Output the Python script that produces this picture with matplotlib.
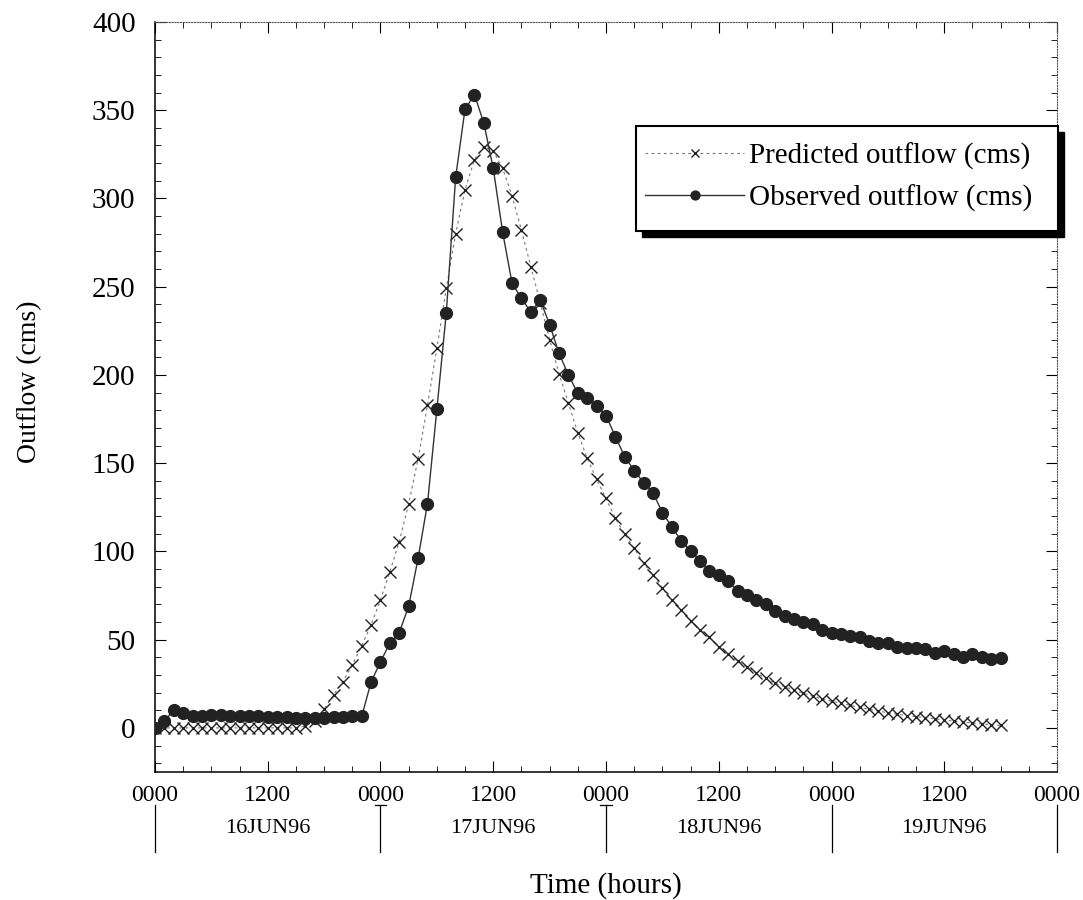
import matplotlib

matplotlib.use("Agg")

import matplotlib.pyplot as plt
import matplotlib.transforms as mtransforms
from matplotlib.patches import Rectangle
from matplotlib.ticker import MultipleLocator


plt.rcParams["font.family"] = ["Liberation Serif", "DejaVu Serif"]

# hourly values starting 16JUN96 0000
HOURS = list(range(91))

OBSERVED = [
    0, 4, 10, 8.5, 7, 7, 7.5, 7.5, 7, 7,
    6.5, 6.5, 6, 6, 6, 5.5, 5.5, 5.5, 5.5, 6,
    6, 6.5, 6.5, 26, 37.5, 48, 54, 69, 96, 127,
    180.5, 235, 312, 350.7, 358.8, 342.7, 317, 281, 252, 243.5,
    235.5, 242.5, 228.5, 212.3, 200, 189.6, 186.8, 182.6, 177, 165,
    153.7, 145.8, 139, 133.3, 122, 114, 106, 100.3, 94.6, 89,
    86.7, 83.3, 77.6, 75.4, 72.5, 70, 66.5, 63.6, 61.8, 60.2,
    59, 55.7, 53.5, 53.3, 51.8, 51.4, 49.5, 48.3, 48, 46,
    45.1, 45.1, 44.5, 42.7, 43.8, 41.9, 40.4, 41.7, 40.4, 38.9,
    39.5,
]

PREDICTED = [
    0, 0, 0, 0, 0, 0, 0, 0, 0, 0,
    0, 0, 0, 0, 0, 0, 1, 4, 10.6, 18.7,
    26.2, 35.7, 46.5, 58.4, 72.5, 88.6, 105.6, 127, 152.3, 182.9,
    215, 249, 280, 305, 322, 329.4, 327, 317, 301.4, 282,
    261.4, 241, 220, 200.8, 183.9, 167.3, 152.8, 140.9, 130, 118.8,
    109.7, 101.8, 93.3, 86.7, 79.1, 72.5, 66.9, 60.8, 55.5, 51.4,
    46, 41.7, 38.1, 34.7, 31.3, 28.1, 25.3, 23.4, 21.5, 19.6,
    18, 16.5, 15, 14, 12.8, 11.6, 10.5, 9.5, 8.6, 7.7,
    7, 6.4, 5.8, 5.1, 4.5, 3.8, 3.3, 2.8, 2.3, 1.8,
    1.4,
]

TICK_HOURS = [0, 12, 24, 36, 48, 60, 72, 84, 96]
TICK_LABELS = ["0000", "1200", "0000", "1200", "0000", "1200", "0000", "1200", "0000"]
DAY_BOUNDS = [0, 24, 48, 72, 96]
DAY_LABELS = ["16JUN96", "17JUN96", "18JUN96", "19JUN96"]


def main() -> None:
    fig = plt.figure(figsize=(10.83, 9), dpi=100)
    ax = fig.add_axes([0.1431, 0.1422, 0.8329, 0.8334])

    ax.plot(HOURS, PREDICTED, color="#777777", lw=0.8, dashes=(2.5, 3),
            marker="x", ms=8.5, mec="#222222", mew=1.0,
            label="Predicted outflow (cms)", zorder=3)
    ax.plot(HOURS, OBSERVED, color="#333333", lw=1.0,
            marker="o", ms=8.5, mfc="#222222", mec="#222222",
            label="Observed outflow (cms)", zorder=4)

    ax.set_xlim(0, 96)
    ax.set_ylim(-25, 400)

    ax.set_xticks(TICK_HOURS)
    ax.set_xticklabels(TICK_LABELS)
    ax.xaxis.set_minor_locator(MultipleLocator(3))
    ax.yaxis.set_major_locator(MultipleLocator(50))
    ax.yaxis.set_minor_locator(MultipleLocator(10))

    ax.tick_params(which="both", direction="in", top=True, right=True)
    ax.tick_params(which="major", length=8, width=0.8)
    ax.tick_params(which="minor", length=4, width=0.6)
    ax.tick_params(axis="y", labelsize=21, pad=14)
    ax.tick_params(axis="x", labelsize=17, pad=9)

    for side in ["left", "bottom"]:
        ax.spines[side].set_linewidth(1.1)
    for side in ["top", "right"]:
        ax.spines[side].set_linestyle((0, (1, 1.5)))
        ax.spines[side].set_color("#555555")
        ax.spines[side].set_linewidth(0.8)

    # date row under the hour labels
    trans = mtransforms.blended_transform_factory(ax.transData, ax.transAxes)
    for h in DAY_BOUNDS:
        ax.plot([h, h], [-0.044, -0.106], transform=trans, color="black",
                lw=0.9, clip_on=False)
    for h in DAY_BOUNDS[1:3]:
        ax.plot([h - 0.6, h + 0.6], [-0.044, -0.044], transform=trans,
                color="black", lw=0.9, clip_on=False)
    for start, end, label in zip(DAY_BOUNDS[:-1], DAY_BOUNDS[1:], DAY_LABELS):
        ax.text((start + end) / 2, -0.075, label, transform=trans,
                ha="center", va="center", fontsize=16)

    ax.text(0.5, -0.151, "Time (hours)", transform=ax.transAxes,
            ha="center", va="center", fontsize=21)
    ax.text(-0.139, 0.52, "Outflow (cms)", transform=ax.transAxes,
            ha="center", va="center", rotation=90, fontsize=20)

    # legend box with a solid drop shadow
    bx, by, bw, bh = 0.5333, 0.7213, 0.4677, 0.14
    ax.add_patch(Rectangle((bx + 0.0066, by - 0.008), bw, bh,
                           transform=ax.transAxes, facecolor="black",
                           edgecolor="black", clip_on=False, zorder=6))
    ax.add_patch(Rectangle((bx, by), bw, bh, transform=ax.transAxes,
                           facecolor="white", edgecolor="black", lw=1.5,
                           clip_on=False, zorder=7))
    leg = ax.legend(loc="center left", bbox_to_anchor=((645 - 155) / 902, (772 - 177) / 750),
                    frameon=False, fontsize=21, numpoints=1, handlelength=3.4,
                    handletextpad=0.15, labelspacing=0.5, borderpad=0,
                    borderaxespad=0, markerscale=0.75)
    leg.set_zorder(8)

    fig.savefig("out.png", dpi=100)
    plt.close(fig)


if __name__ == "__main__":
    main()
